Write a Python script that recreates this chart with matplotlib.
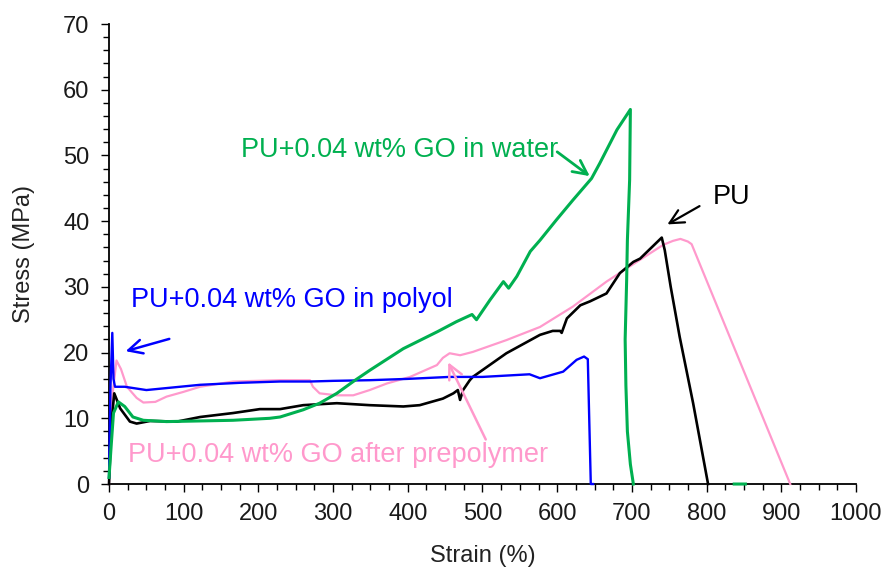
import matplotlib
matplotlib.use("Agg")
import matplotlib.pyplot as plt
from matplotlib.ticker import MultipleLocator
import numpy as np

plt.rcParams['font.family'] = ['Liberation Sans', 'DejaVu Sans']

# tensile curves, strain (%) vs stress (MPa)
pu_strain = [0, 3, 7, 15, 28, 37, 55, 91, 122, 166, 202, 229, 260, 305, 349, 394, 416, 447,
             461, 467, 470, 474, 483, 487, 532, 577, 594, 604, 606, 613, 631, 644, 666, 684,
             702, 711, 740, 744, 752, 764, 782, 802]
pu_stress = [0, 9, 13.8, 11.5, 9.5, 9.2, 9.6, 9.5, 10.2, 10.8, 11.4, 11.4, 12, 12.3, 12, 11.8,
             12, 13, 13.8, 14.3, 12.8, 14.3, 15.8, 16.3, 19.9, 22.7, 23.3, 23.3, 23, 25.2,
             27.2, 27.8, 29.0, 32.1, 33.8, 34.3, 37.5, 35.6, 30, 22.4, 12.3, 0]

water_strain = [0, 3, 6, 12.5, 21, 32, 46, 77, 122, 166, 215, 229, 260, 282, 305, 327, 349,
                394, 440, 465, 486, 492, 510, 528, 535, 546, 564, 577, 599, 621, 646, 657,
                680, 698, 697, 694, 693, 691, 692, 694, 698, 702, np.nan, 837, 852]
water_stress = [1, 6, 10.8, 12.5, 11.8, 10.2, 9.7, 9.5, 9.6, 9.7, 10, 10.2, 11.3, 12.3, 13.8,
                15.6, 17.3, 20.6, 23.2, 24.7, 25.8, 25, 28, 30.8, 29.8, 31.6, 35.4, 37.1, 40.2,
                43.2, 46.5, 48.8, 53.9, 57, 46.3, 37.1, 31, 22, 15, 8, 3, 0, np.nan, 0, 0]

polyol_strain = [0, 2, 4.4, 6, 8, 21, 50, 77, 122, 175, 229, 269, 300, 349, 400, 456, 500,
                 563, 577, 608, 626, 636, 641, 645, 648]
polyol_stress = [1, 15, 23, 16, 14.8, 14.8, 14.3, 14.6, 15.1, 15.4, 15.6, 15.6, 15.7, 15.8,
                 16.0, 16.3, 16.3, 16.7, 16.1, 17.1, 18.9, 19.4, 19.0, 0, 0]

prepoly_strain = [0, 3, 10, 16, 24, 37, 46, 62, 77, 99, 122, 166, 229, 269, 273, 282, 305,
                  327, 349, 372, 403, 439, 447, 456, 470, 487, 532, 577, 621, 666, 697, 742,
                  755, 765, 775, 780, 912]
prepoly_stress = [0, 12, 18.8, 17.5, 14.8, 13.1, 12.4, 12.5, 13.3, 14, 14.8, 15.6, 15.8, 15.8,
                  14.8, 13.8, 13.5, 13.5, 14.3, 15.3, 16.3, 18.1, 19.2, 19.9, 19.6, 20.1, 21.9,
                  23.9, 27, 30.8, 33.1, 36.4, 37, 37.3, 36.9, 36.5, 0]

GREEN = '#00b050'
BLUE = '#0000ff'
PINK = '#ff99cc'
BLACK = '#000000'

fig = plt.figure(figsize=(8.87, 5.72), dpi=100)
ax = fig.add_axes([0.1229, 0.1538, 0.8421, 0.8042])

ax.plot(prepoly_strain, prepoly_stress, color=PINK, lw=1.6, zorder=3, clip_on=False)
ax.plot(pu_strain, pu_stress, color=BLACK, lw=1.9, zorder=3, clip_on=False)
ax.plot(polyol_strain, polyol_stress, color=BLUE, lw=1.7, zorder=3, clip_on=False)
ax.plot(water_strain, water_stress, color=GREEN, lw=2.2, zorder=3, clip_on=False)

ax.set_xlim(0, 1000)
ax.set_ylim(0, 70)
ax.xaxis.set_major_locator(MultipleLocator(100))
ax.xaxis.set_minor_locator(MultipleLocator(25))
ax.yaxis.set_major_locator(MultipleLocator(10))
ax.yaxis.set_minor_locator(MultipleLocator(2))
ax.tick_params(which='major', direction='out', length=6, width=1, labelsize=17, pad=8,
               labelcolor='#1a1a1a')
ax.tick_params(which='minor', direction='out', length=4, width=1)
for s in ['top', 'right']:
    ax.spines[s].set_visible(False)
for s in ['left', 'bottom']:
    ax.spines[s].set_linewidth(1.3)

ax.set_xlabel('Strain (%)', fontsize=17, color='#222222', labelpad=14)
ax.set_ylabel('Stress (MPa)', fontsize=17, color='#222222', labelpad=20)

# labels with arrows pointing at each curve
fs = 19.5
ax.text(176.7, 50.8, 'PU+0.04 wt% GO in water', color=GREEN, fontsize=fs, ha='left', va='center')
ax.annotate('', xy=(646.6, 46.6), xytext=(597, 50.8),
            arrowprops=dict(arrowstyle='->', color=GREEN, lw=2, mutation_scale=25))

ax.text(808.6, 43.7, 'PU', color=BLACK, fontsize=fs, ha='left', va='center')
ax.annotate('', xy=(744.3, 39.3), xytext=(793.8, 42.5),
            arrowprops=dict(arrowstyle='->', color=BLACK, lw=1.6, mutation_scale=25))

ax.text(29.5, 28, 'PU+0.04 wt% GO in polyol', color=BLUE, fontsize=fs, ha='left', va='center')
ax.annotate('', xy=(18.7, 20.1), xytext=(84.3, 22.2),
            arrowprops=dict(arrowstyle='->', color=BLUE, lw=1.8, mutation_scale=25))

ax.text(25.4, 4.4, 'PU+0.04 wt% GO after prepolymer', color=PINK, fontsize=fs, ha='left', va='center')
ax.annotate('', xy=(452.5, 18.9), xytext=(506, 6.4),
            arrowprops=dict(arrowstyle='->', color=PINK, lw=1.8, mutation_scale=25))

fig.savefig('out.png', dpi=100)
